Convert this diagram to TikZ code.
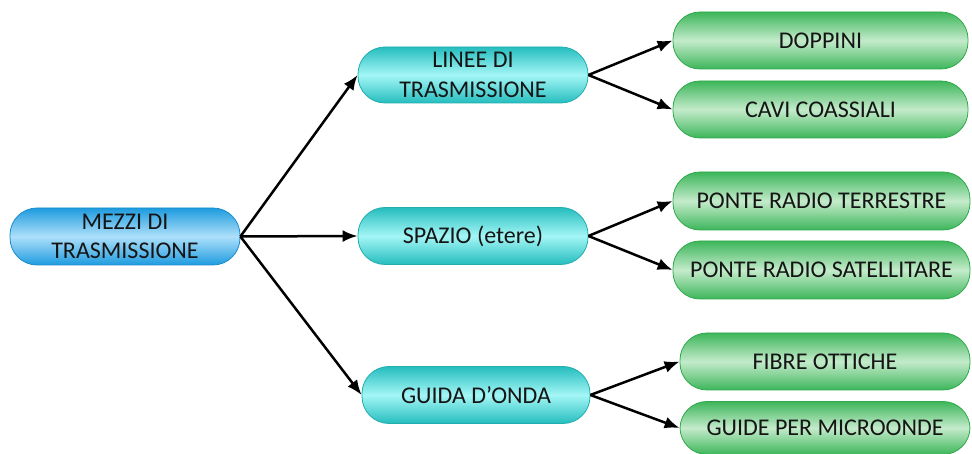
\documentclass[tikz,border=0pt]{standalone}
\usepackage{fontspec}
\setmainfont{Carlito}
\usetikzlibrary{arrows.meta}

\definecolor{textgray}{HTML}{151515}
\definecolor{bluetop}{HTML}{1E9BDF}
\definecolor{bluemid}{HTML}{AEE0FA}
\definecolor{blueedge}{HTML}{1B8CCB}
\definecolor{tealtop}{HTML}{25BDBE}
\definecolor{tealmid}{HTML}{A4F6F6}
\definecolor{tealedge}{HTML}{22ADAE}
\definecolor{greentop}{HTML}{3DB65A}
\definecolor{greenmid}{HTML}{C4EBCB}
\definecolor{greenedge}{HTML}{2FA94C}

\tikzset{
  pill/.style={rectangle, rounded corners=27pt, minimum height=57pt,
    inner sep=0pt, align=center, line width=0.8pt,
    font=\fontsize{24}{29.5}\selectfont, text=textgray},
  bluepill/.style={pill, draw=blueedge, top color=bluetop,
    bottom color=bluetop, middle color=bluemid},
  tealpill/.style={pill, draw=tealedge, top color=tealtop,
    bottom color=tealtop, middle color=tealmid},
  greenpill/.style={pill, draw=greenedge, top color=greentop,
    bottom color=greentop, middle color=greenmid},
  link/.style={-{Latex[length=15pt,width=12pt]}, line width=2.5pt, black}
}

\begin{document}
\begin{tikzpicture}[x=1pt,y=1pt]
  \useasboundingbox (0,0) rectangle (972,454);

  % root
  \node[bluepill, minimum width=230pt] (mezzi) at (125,217.5)
    {MEZZI DI\\TRASMISSIONE};

  % second level
  \node[tealpill, minimum width=230pt, minimum height=56pt] (linee) at (473,379)
    {LINEE DI\\TRASMISSIONE};
  \node[tealpill, minimum width=230pt] (spazio) at (473,218)
    {SPAZIO (etere)};
  \node[tealpill, minimum width=228pt] (guida) at (476,59)
    {GUIDA D’ONDA};

  % leaves
  \node[greenpill, minimum width=295pt] (doppini) at (820.5,413.5) {DOPPINI};
  \node[greenpill, minimum width=295pt] (cavi) at (820.5,344.5) {CAVI COASSIALI};
  \node[greenpill, minimum width=297pt, minimum height=58pt] (terr) at (821.5,253)
    {PONTE RADIO TERRESTRE};
  \node[greenpill, minimum width=297pt, minimum height=58pt] (sat) at (821.5,184)
    {PONTE RADIO SATELLITARE};
  \node[greenpill, minimum width=290pt] (fibre) at (825,92.5) {FIBRE OTTICHE};
  \node[greenpill, minimum width=290pt, minimum height=53pt] (micro) at (825,26)
    {GUIDE PER MICROONDE};

  % connectors
  \draw[link] (mezzi.east) -- (linee.west);
  \draw[link] (mezzi.east) -- (spazio.west);
  \draw[link] (mezzi.east) -- (guida.west);
  \draw[link] (linee.east) -- (doppini.west);
  \draw[link] (linee.east) -- (cavi.west);
  \draw[link] (spazio.east) -- (terr.west);
  \draw[link] (spazio.east) -- (sat.west);
  \draw[link] (guida.east) -- (fibre.west);
  \draw[link] (guida.east) -- (micro.west);
\end{tikzpicture}
\end{document}
